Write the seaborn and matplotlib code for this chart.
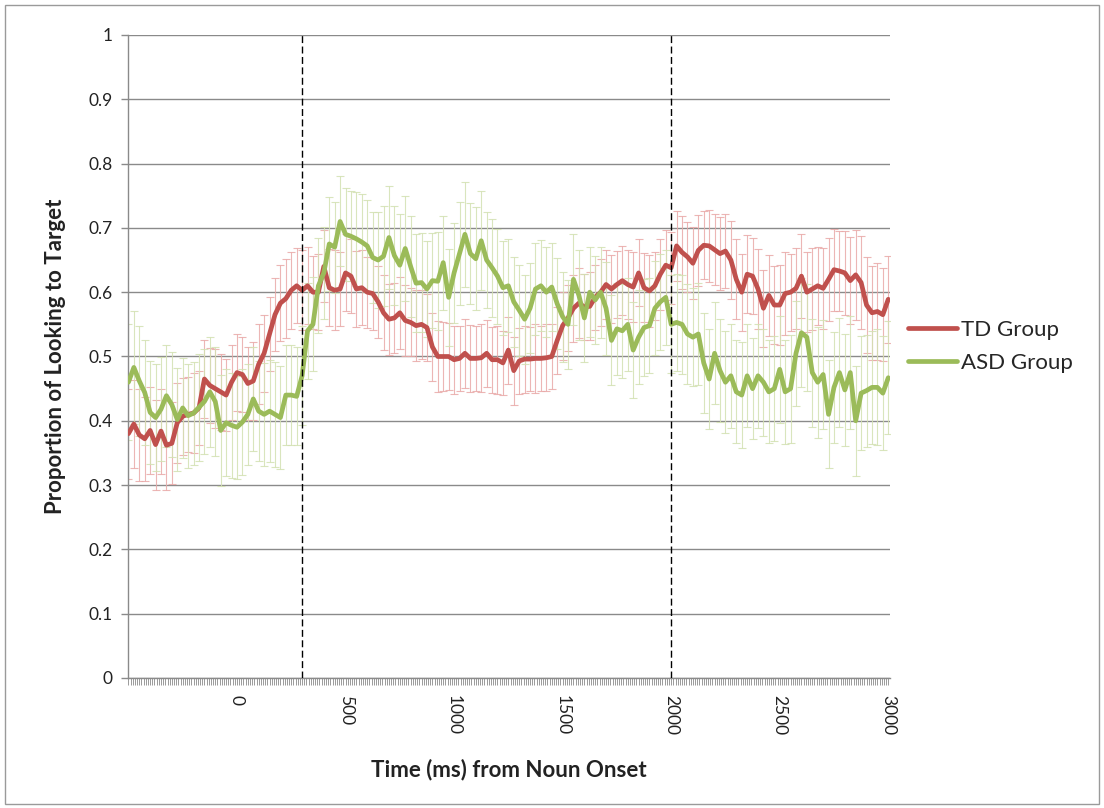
import numpy as np
import pandas as pd
import matplotlib
matplotlib.use("Agg")
import matplotlib.pyplot as plt
from matplotlib.patches import Rectangle
from matplotlib.ticker import MultipleLocator, FixedLocator
import seaborn as sns

# Time bins (ms from noun onset), 25 ms steps
time_ms = list(range(-500, 3001, 25))

td_group = [
    0.380, 0.395, 0.378, 0.372, 0.385, 0.363, 0.384, 0.362, 0.365, 0.397,
    0.407, 0.410, 0.412, 0.420, 0.465, 0.455, 0.450, 0.445, 0.440, 0.460,
    0.475, 0.472, 0.458, 0.462, 0.488, 0.505, 0.535, 0.565, 0.583, 0.590,
    0.603, 0.610, 0.603, 0.610, 0.600, 0.600, 0.640, 0.607, 0.603, 0.605,
    0.630, 0.625, 0.605, 0.607, 0.600, 0.598, 0.585, 0.568, 0.558, 0.560,
    0.568, 0.556, 0.553, 0.548, 0.550, 0.545, 0.515, 0.500, 0.500, 0.500,
    0.495, 0.497, 0.505, 0.497, 0.497, 0.498, 0.505, 0.495, 0.495, 0.490,
    0.510, 0.478, 0.493, 0.496, 0.496, 0.497, 0.497, 0.498, 0.500, 0.525,
    0.548, 0.560, 0.575, 0.583, 0.577, 0.578, 0.592, 0.600, 0.612, 0.605,
    0.612, 0.618, 0.612, 0.608, 0.630, 0.607, 0.602, 0.610, 0.628, 0.642,
    0.638, 0.672, 0.662, 0.655, 0.645, 0.665, 0.673, 0.672, 0.666, 0.660,
    0.664, 0.650, 0.620, 0.600, 0.628, 0.625, 0.605, 0.575, 0.595, 0.580,
    0.580, 0.598, 0.600, 0.606, 0.625, 0.600, 0.605, 0.610, 0.606, 0.620,
    0.635, 0.633, 0.630, 0.618, 0.627, 0.615, 0.580, 0.568, 0.570, 0.565,
    0.589,
]

asd_group = [
    0.460, 0.483, 0.462, 0.444, 0.413, 0.405, 0.418, 0.439, 0.425, 0.402,
    0.420, 0.408, 0.412, 0.421, 0.430, 0.445, 0.430, 0.385, 0.397, 0.393,
    0.390, 0.398, 0.410, 0.434, 0.415, 0.410, 0.415, 0.410, 0.405, 0.440,
    0.440, 0.438, 0.470, 0.540, 0.550, 0.610, 0.630, 0.675, 0.670, 0.710,
    0.690, 0.687, 0.683, 0.678, 0.672, 0.654, 0.650, 0.656, 0.685, 0.657,
    0.642, 0.668, 0.640, 0.614, 0.615, 0.605, 0.618, 0.617, 0.646, 0.592,
    0.630, 0.660, 0.690, 0.660, 0.652, 0.680, 0.650, 0.638, 0.625, 0.607,
    0.610, 0.585, 0.572, 0.558, 0.575, 0.605, 0.610, 0.600, 0.608, 0.582,
    0.562, 0.550, 0.620, 0.595, 0.560, 0.600, 0.588, 0.600, 0.575, 0.525,
    0.543, 0.540, 0.550, 0.510, 0.530, 0.545, 0.548, 0.575, 0.585, 0.592,
    0.550, 0.553, 0.550, 0.535, 0.530, 0.535, 0.490, 0.465, 0.505, 0.478,
    0.460, 0.470, 0.445, 0.440, 0.470, 0.450, 0.470, 0.460, 0.445, 0.450,
    0.480, 0.445, 0.450, 0.505, 0.537, 0.530, 0.475, 0.460, 0.472, 0.410,
    0.452, 0.475, 0.448, 0.475, 0.400, 0.443, 0.447, 0.452, 0.452, 0.443,
    0.467,
]

# Standard error half-widths
td_err = [
    0.070, 0.068, 0.072, 0.065, 0.068, 0.070, 0.066, 0.069, 0.064, 0.062,
    0.060, 0.058, 0.062, 0.057, 0.060, 0.058, 0.061, 0.059, 0.056, 0.058,
    0.060, 0.058, 0.057, 0.060, 0.062, 0.060, 0.058, 0.057, 0.059, 0.062,
    0.060, 0.058, 0.062, 0.060, 0.057, 0.059, 0.056, 0.060, 0.062, 0.058,
    0.060, 0.057, 0.059, 0.058, 0.055, 0.057, 0.056, 0.058, 0.055, 0.054,
    0.056, 0.055, 0.053, 0.055, 0.054, 0.052, 0.053, 0.055, 0.054, 0.052,
    0.053, 0.051, 0.054, 0.052, 0.050, 0.053, 0.052, 0.051, 0.053, 0.050,
    0.052, 0.053, 0.051, 0.052, 0.050, 0.053, 0.051, 0.052, 0.050, 0.052,
    0.053, 0.051, 0.052, 0.054, 0.052, 0.053, 0.051, 0.052, 0.054, 0.053,
    0.052, 0.054, 0.053, 0.055, 0.052, 0.054, 0.056, 0.053, 0.055, 0.054,
    0.056, 0.055, 0.057, 0.054, 0.056, 0.055, 0.053, 0.056, 0.055, 0.057,
    0.058, 0.060, 0.062, 0.060, 0.061, 0.059, 0.062, 0.060, 0.063, 0.061,
    0.062, 0.064, 0.060, 0.063, 0.065, 0.062, 0.064, 0.061, 0.063, 0.065,
    0.064, 0.062, 0.065, 0.068, 0.070, 0.072, 0.074, 0.073, 0.075, 0.072,
    0.068,
]

asd_err = [
    0.090, 0.088, 0.085, 0.082, 0.080, 0.083, 0.081, 0.079, 0.082, 0.080,
    0.078, 0.081, 0.080, 0.083, 0.082, 0.085, 0.084, 0.086, 0.083, 0.082,
    0.080, 0.082, 0.079, 0.081, 0.078, 0.080, 0.079, 0.082, 0.080, 0.078,
    0.078, 0.076, 0.077, 0.075, 0.073, 0.074, 0.072, 0.073, 0.071, 0.070,
    0.072, 0.070, 0.073, 0.074, 0.072, 0.071, 0.075, 0.078, 0.080, 0.077,
    0.079, 0.081, 0.078, 0.076, 0.077, 0.075, 0.074, 0.076, 0.073, 0.075,
    0.078, 0.080, 0.082, 0.079, 0.080, 0.077, 0.075, 0.076, 0.074, 0.073,
    0.072, 0.070, 0.071, 0.069, 0.070, 0.072, 0.071, 0.070, 0.069, 0.071,
    0.070, 0.069, 0.071, 0.070, 0.068, 0.070, 0.069, 0.071, 0.072, 0.070,
    0.071, 0.073, 0.072, 0.074, 0.073, 0.075, 0.074, 0.073, 0.075, 0.074,
    0.076, 0.075, 0.077, 0.078, 0.076, 0.079, 0.078, 0.077, 0.079, 0.080,
    0.079, 0.081, 0.080, 0.082, 0.080, 0.079, 0.081, 0.083, 0.080, 0.082,
    0.083, 0.081, 0.084, 0.082, 0.085, 0.083, 0.084, 0.086, 0.085, 0.084,
    0.086, 0.085, 0.087, 0.088, 0.086, 0.089, 0.087, 0.088, 0.090, 0.089,
    0.088,
]

group_names = ["TD Group", "ASD Group"]
line_colors = {"TD Group": "#C0504D", "ASD Group": "#9BBB59"}
err_colors = {"TD Group": "#e9a9a8", "ASD Group": "#d3e1b2"}
window_marks = [300, 2000]
y_ticks = [0, 0.1, 0.2, 0.3, 0.4, 0.5, 0.6, 0.7, 0.8, 0.9, 1]
x_ticks = [0, 500, 1000, 1500, 2000, 2500, 3000]

df = pd.concat([
    pd.DataFrame({"time": time_ms, "prop": td_group, "err": td_err, "group": "TD Group"}),
    pd.DataFrame({"time": time_ms, "prop": asd_group, "err": asd_err, "group": "ASD Group"}),
], ignore_index=True)

sns.set_theme(style="white")
plt.rcParams["font.family"] = ["Lato", "DejaVu Sans"]

W, H = 1104, 808
fig = plt.figure(figsize=(W / 100, H / 100), dpi=100)
fig.patch.set_facecolor("white")
left, right, top, bottom = 128, 890, 35, 678
ax = fig.add_axes([left / W, 1 - bottom / H, (right - left) / W, (bottom - top) / H])

# error bars for each group
for g in group_names:
    sub = df[df["group"] == g]
    ax.errorbar(sub["time"], sub["prop"], yerr=sub["err"], fmt="none",
                ecolor=err_colors[g], elinewidth=0.8, capsize=2.8,
                capthick=0.8, alpha=0.85, zorder=2)

sns.lineplot(data=df, x="time", y="prop", hue="group", hue_order=group_names,
             palette=line_colors, linewidth=3.4, ax=ax, zorder=4,
             estimator=None, sort=True)

for t in window_marks:
    ax.axvline(t, color="black", lw=1.0, ls=(0, (5, 2.5)), zorder=5)

ax.set_xlim(-502, 3008)
ax.set_ylim(0, 1)
ax.yaxis.set_major_locator(FixedLocator(y_ticks))
ax.set_yticklabels([f"{v:g}" for v in y_ticks], fontsize=12.5)
ax.xaxis.set_major_locator(FixedLocator(x_ticks))
ax.set_xticklabels([str(v) for v in x_ticks], fontsize=12.5, rotation=-90)
ax.xaxis.set_minor_locator(MultipleLocator(10))

ax.yaxis.grid(True, color="#8a8a8a", lw=1.0)
ax.xaxis.grid(False)
ax.set_axisbelow(True)
for s in ["top", "right"]:
    ax.spines[s].set_visible(False)
for s in ["left", "bottom"]:
    ax.spines[s].set_color("#8a8a8a")
    ax.spines[s].set_linewidth(1.0)

ax.tick_params(axis="y", which="major", left=True, length=5, width=1,
               color="#8a8a8a", pad=6, labelcolor="#222222")
ax.tick_params(axis="x", which="both", bottom=True, length=5, width=0.6,
               color="#8a8a8a", pad=7, labelcolor="#222222")

ax.set_xlabel("Time (ms) from Noun Onset", fontsize=16, fontweight="bold", color="#222222")
ax.set_ylabel("Proportion of Looking to Target", fontsize=16, fontweight="bold", color="#222222")
ax.xaxis.set_label_coords(0.5, (bottom - 759) / (bottom - top))
ax.yaxis.set_label_coords((66 - left) / (right - left), 0.5)

leg = ax.legend(loc="center left", bbox_to_anchor=(1.012, 0.516), frameon=False,
                fontsize=16, handlelength=2.2, handletextpad=0.2,
                labelspacing=0.6, borderaxespad=0)
for line in leg.get_lines():
    line.set_linewidth(3.4)

fig.patches.append(Rectangle((5 / W, 4 / H), (W - 10) / W, (H - 9) / H,
                             transform=fig.transFigure, fill=False,
                             ec="#9a9a9a", lw=1.0))

fig.savefig("out.png", dpi=100, facecolor="white")
